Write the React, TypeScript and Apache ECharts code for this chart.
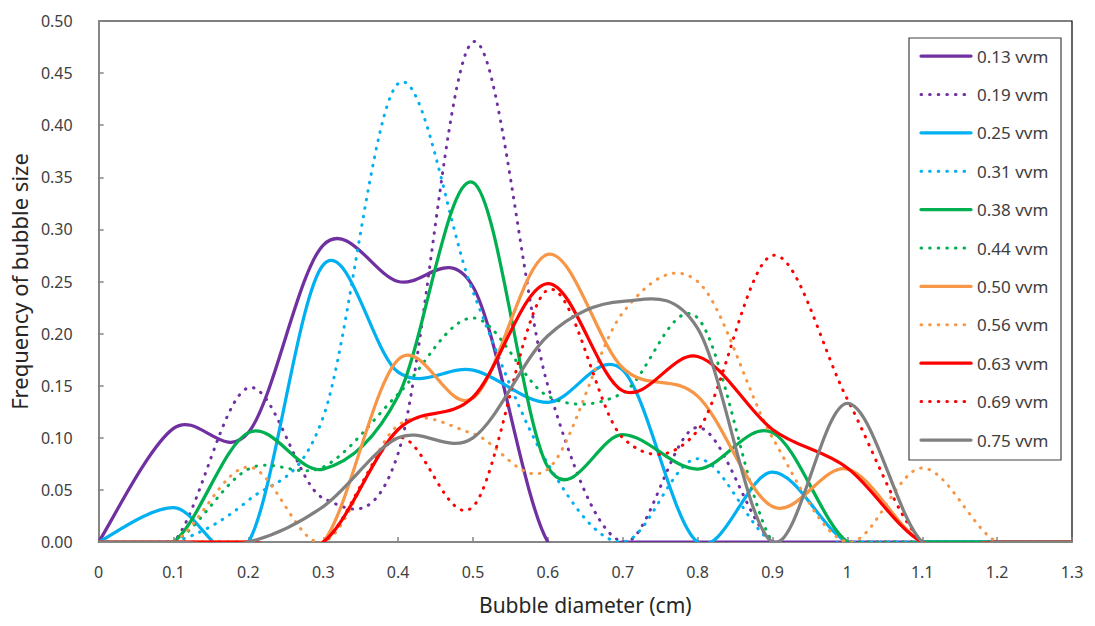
import { useEffect, useRef } from "react";
import * as echarts from "echarts";

// Bubble diameter classes (cm)
const DIAMETERS = [0, 0.1, 0.2, 0.3, 0.4, 0.5, 0.6, 0.7, 0.8, 0.9, 1.0, 1.1, 1.2, 1.3];

// Frequency of bubble size per aeration rate
const F_013 = [0, 0.109, 0.105, 0.285, 0.25, 0.245, 0, 0, 0, 0, 0, 0, 0, 0];
const F_019 = [0, 0, 0.148, 0.042, 0.085, 0.48, 0.15, 0, 0.11, 0, 0, 0, 0, 0];
const F_025 = [0, 0.033, 0, 0.266, 0.163, 0.165, 0.134, 0.165, 0, 0.067, 0, 0, 0, 0];
const F_031 = [0, 0, 0.04, 0.12, 0.44, 0.24, 0.075, 0, 0.08, 0, 0, 0, 0, 0];
const F_038 = [0, 0, 0.105, 0.07, 0.14, 0.345, 0.072, 0.103, 0.07, 0.105, 0, 0, 0, 0];
const F_044 = [0, 0, 0.07, 0.072, 0.142, 0.215, 0.14, 0.143, 0.215, 0, 0, 0, 0, 0];
const F_050 = [0, 0, 0, 0, 0.175, 0.138, 0.276, 0.167, 0.14, 0.034, 0.07, 0, 0, 0];
const F_056 = [0, 0, 0.072, 0, 0.112, 0.104, 0.07, 0.22, 0.25, 0.1, 0, 0.071, 0, 0];
const F_063 = [0, 0, 0, 0, 0.108, 0.139, 0.248, 0.145, 0.178, 0.108, 0.071, 0, 0, 0];
const F_069 = [0, 0, 0, 0, 0.1, 0.034, 0.242, 0.1, 0.107, 0.275, 0.137, 0, 0, 0];
const F_075 = [0, 0, 0, 0.034, 0.1, 0.1, 0.198, 0.231, 0.205, 0, 0.133, 0, 0, 0];

const SERIES_NAMES = [
  "0.13 vvm", "0.19 vvm", "0.25 vvm", "0.31 vvm", "0.38 vvm", "0.44 vvm",
  "0.50 vvm", "0.56 vvm", "0.63 vvm", "0.69 vvm", "0.75 vvm",
];
const SERIES_VALUES = [F_013, F_019, F_025, F_031, F_038, F_044, F_050, F_056, F_063, F_069, F_075];
const SERIES_COLORS = [
  "#7030A0", "#7030A0", "#00B0F0", "#00B0F0", "#00B050", "#00B050",
  "#F79646", "#F79646", "#FF0000", "#FF0000", "#808080",
];
const SERIES_DOTTED = [false, true, false, true, false, true, false, true, false, true, false];

const FONT = '"Noto Sans", "Open Sans", sans-serif';
const SOLID_WIDTH = 3.25;
const DOT_WIDTH = 3;
const DOT_DASH = [0.6, 8];

// Smoothed curve through the points (cardinal spline, 1/6 tangent factor)
function makeRenderItem(values: number[], color: string, dotted: boolean) {
  return (params: any, api: any) => {
    if (params.dataIndex !== 0) return null;
    const pts = DIAMETERS.map((d, i) => api.coord([d, values[i]]));
    let d = `M${pts[0][0]} ${pts[0][1]}`;
    for (let i = 0; i < pts.length - 1; i++) {
      const p0 = pts[i - 1] ?? pts[i];
      const p1 = pts[i];
      const p2 = pts[i + 1];
      const p3 = pts[i + 2] ?? pts[i + 1];
      const c1x = p1[0] + (p2[0] - p0[0]) / 6;
      const c1y = p1[1] + (p2[1] - p0[1]) / 6;
      const c2x = p2[0] - (p3[0] - p1[0]) / 6;
      const c2y = p2[1] - (p3[1] - p1[1]) / 6;
      d += ` C${c1x} ${c1y} ${c2x} ${c2y} ${p2[0]} ${p2[1]}`;
    }
    return {
      type: "path",
      shape: { pathData: d },
      style: {
        fill: "none",
        stroke: color,
        lineWidth: dotted ? DOT_WIDTH : SOLID_WIDTH,
        lineDash: dotted ? DOT_DASH : null,
        lineCap: "round",
        lineJoin: "round",
      },
    };
  };
}

function legendGraphic() {
  const left = 909;
  const top = 38;
  const step = 38.4;
  const children: any[] = [
    {
      type: "rect",
      shape: { x: left, y: top, width: 152, height: 422 },
      style: { fill: "#ffffff", stroke: "#404040", lineWidth: 1.2 },
    },
  ];
  SERIES_NAMES.forEach((name, i) => {
    const y = top + 18 + step * i;
    const dotted = SERIES_DOTTED[i];
    children.push({
      type: "line",
      shape: { x1: left + 12, y1: y, x2: left + 62, y2: y },
      style: {
        stroke: SERIES_COLORS[i],
        lineWidth: dotted ? DOT_WIDTH : SOLID_WIDTH,
        lineDash: dotted ? DOT_DASH : null,
        lineCap: "round",
      },
    });
    children.push({
      type: "text",
      x: left + 68,
      y,
      style: {
        text: name,
        fill: "#404040",
        fontSize: 17,
        fontFamily: FONT,
        align: "left",
        verticalAlign: "middle",
      },
    });
  });
  return [{ type: "group", children }];
}

export default function App() {
  const ref = useRef<HTMLDivElement>(null);

  useEffect(() => {
    if (!ref.current) return;
    const chart = echarts.init(ref.current, undefined, { renderer: "svg" });
    const axisGray = "#868686";
    chart.setOption({
      animation: false,
      backgroundColor: "#ffffff",
      textStyle: { fontFamily: FONT },
      grid: {
        left: 94,
        right: 23,
        top: 21,
        bottom: 84,
        show: true,
        borderColor: "#000000",
        borderWidth: 1.2,
        backgroundColor: "transparent",
      },
      xAxis: {
        type: "value",
        min: 0,
        max: 1.3,
        interval: 0.1,
        name: "Bubble diameter (cm)",
        nameLocation: "middle",
        nameGap: 52,
        nameTextStyle: { fontSize: 21, color: "#262626", fontFamily: FONT },
        axisLine: { show: true, lineStyle: { color: axisGray, width: 2 } },
        axisTick: { show: true, inside: true, length: 5, lineStyle: { color: axisGray, width: 1.5 } },
        axisLabel: {
          margin: 22,
          fontSize: 16,
          color: "#404040",
          fontFamily: FONT,
          formatter: (v: number) => String(Math.round(v * 10) / 10),
        },
        splitLine: { show: false },
      },
      yAxis: {
        type: "value",
        min: 0,
        max: 0.5,
        interval: 0.05,
        name: "Frequency of bubble size",
        nameLocation: "middle",
        nameGap: 58,
        nameTextStyle: { fontSize: 22, color: "#262626", fontFamily: FONT },
        axisLine: { show: true, lineStyle: { color: axisGray, width: 2 } },
        axisTick: { show: true, inside: true, length: 5, lineStyle: { color: axisGray, width: 1.5 } },
        axisLabel: {
          margin: 26,
          fontSize: 16,
          color: "#404040",
          fontFamily: FONT,
          formatter: (v: number) => v.toFixed(2),
        },
        splitLine: { show: false },
      },
      series: SERIES_NAMES.map((name, i) => ({
        type: "custom",
        name,
        coordinateSystem: "cartesian2d",
        clip: true,
        silent: true,
        encode: { x: 0, y: 1 },
        data: DIAMETERS.map((d, k) => [d, SERIES_VALUES[i][k]]),
        renderItem: makeRenderItem(SERIES_VALUES[i], SERIES_COLORS[i], SERIES_DOTTED[i]),
      })),
      graphic: legendGraphic(),
    });
    return () => chart.dispose();
  }, []);

  return (
    <div
      ref={ref}
      style={{ position: "fixed", left: 0, top: 0, width: 1095, height: 626 }}
    />
  );
}
